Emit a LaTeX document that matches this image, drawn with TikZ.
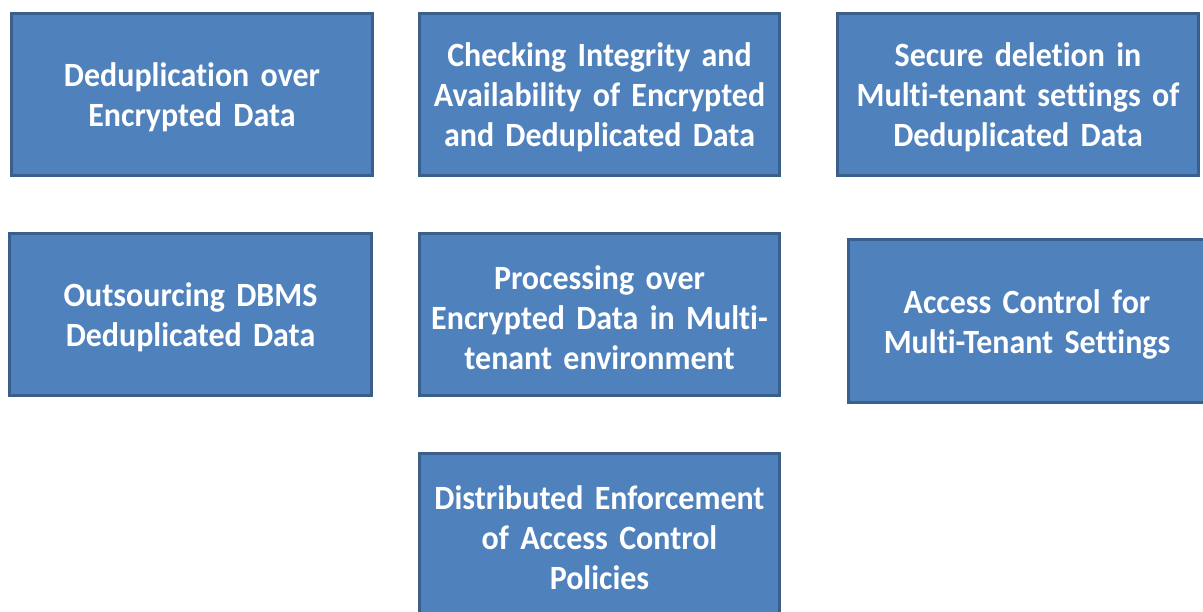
\documentclass[tikz,border=0pt]{standalone}
\usepackage{fontspec}
\setmainfont{Carlito}
\newfontfamily\topicfont{Carlito}[FakeStretch=0.94, Ligatures=NoCommon,
  BoldFeatures={FakeStretch=0.94, Ligatures=NoCommon}]
\definecolor{boxfill}{HTML}{4F81BD}
\definecolor{boxline}{HTML}{3A5F8B}
\tikzset{
  topic/.style={draw=boxline, line width=3pt, fill=boxfill, text=white,
    font=\topicfont\fontsize{34}{40}\selectfont\bfseries, align=center,
    inner sep=0pt, text width=355pt,
    execute at begin node={\rule{0pt}{30pt}}},
}
\begin{document}
\begin{tikzpicture}[x=1pt, y=-1pt]
% page frame
\clip (0,0) rectangle (1203,612);
\fill[white] (0,0) rectangle (1203,612);

% first row
\node[topic, minimum width=361pt, minimum height=162pt] (dedup) at (192,94.5)
  {Deduplication over\\Encrypted Data};
\node[topic, minimum width=360pt, minimum height=162pt] (integrity) at (599.5,94.5)
  {Checking Integrity and\\Availability of Encrypted\\and Deduplicated Data};
\node[topic, minimum width=361pt, minimum height=162pt] (deletion) at (1018,94.5)
  {Secure deletion in\\Multi-tenant settings of\\Deduplicated Data};

% second row
\node[topic, minimum width=362pt, minimum height=162pt] (dbms) at (190.5,314.5)
  {Outsourcing DBMS\\Deduplicated Data};
\node[topic, minimum width=360pt, minimum height=162pt] (processing) at (599.5,314.5)
  {Processing over\\Encrypted Data in Multi-\\tenant environment};
\node[topic, minimum width=358pt, minimum height=163pt] (access) at (1027,321)
  {Access Control for\\Multi-Tenant Settings};

% third row
\node[topic, minimum width=360pt, minimum height=162pt] (enforce) at (599.5,534.5)
  {Distributed Enforcement\\of Access Control\\Policies};
\end{tikzpicture}
\end{document}
